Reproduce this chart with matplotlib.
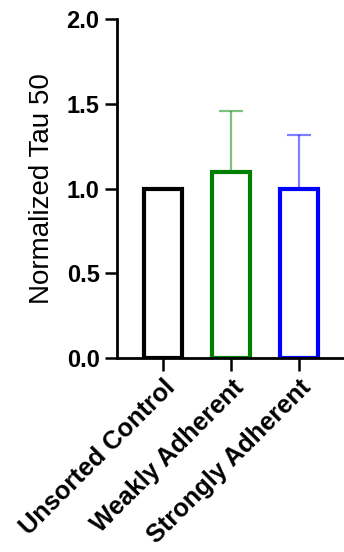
import matplotlib
matplotlib.use("Agg")
import matplotlib.pyplot as plt
import matplotlib.transforms as mtransforms
import numpy as np

# data
groups = ["Unsorted Control", "Weakly Adherent", "Strongly Adherent"]
means = [1.0, 1.095, 1.0]
err_up = [0.0, 0.365, 0.315]
colors = ["#000000", "#008000", "#0000FF"]

plt.rcParams["font.family"] = ["Liberation Sans", "DejaVu Sans"]

fig = plt.figure(figsize=(3.44, 5.52), dpi=100)
ax = fig.add_axes([0.340, 0.3514, 0.66, 0.6142])

x = np.arange(len(groups))
for xi, m, e, c in zip(x, means, err_up, colors):
    if e > 0:
        ax.errorbar(xi, m, yerr=[[0], [e]], color=c, alpha=0.5,
                    elinewidth=1.6, capsize=8.3, capthick=1.6, zorder=1)
    ax.bar(xi, m, width=0.56, facecolor="white", edgecolor=c,
           linewidth=3.0, zorder=2)

ax.set_xlim(-0.68, 2.66)
ax.set_ylim(0, 2.0)
ax.set_yticks([0, 0.5, 1.0, 1.5, 2.0])
ax.set_yticklabels(["0.0", "0.5", "1.0", "1.5", "2.0"])
ax.set_xticks(x)
ax.set_xticklabels(groups, rotation=45, ha="right", va="top",
                   rotation_mode="anchor")

# nudge the slanted labels down-left like the original
shift = mtransforms.ScaledTranslation(-7 / 72, -2.5 / 72, fig.dpi_scale_trans)
for lab in ax.get_xticklabels():
    lab.set_fontweight("bold")
    lab.set_fontsize(18.3)
    lab.set_transform(lab.get_transform() + shift)
for lab in ax.get_yticklabels():
    lab.set_fontweight("bold")
    lab.set_fontsize(17)

ax.tick_params(axis="both", direction="out", length=9, width=1.8, pad=3.5)
ax.spines["top"].set_visible(False)
ax.spines["right"].set_visible(False)
ax.spines["left"].set_linewidth(2.0)
ax.spines["bottom"].set_linewidth(2.0)

ax.set_ylabel("Normalized Tau 50", fontsize=20, labelpad=8)

fig.savefig("out.png", dpi=100)
